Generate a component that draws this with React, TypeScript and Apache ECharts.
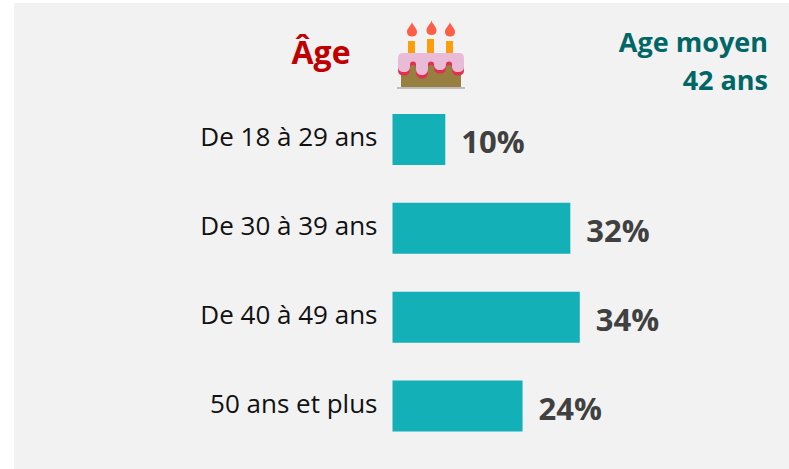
import React, { useEffect, useRef } from "react";
import * as echarts from "echarts";

const categories = ["De 18 à 29 ans", "De 30 à 39 ans", "De 40 à 49 ans", "50 ans et plus"];
const values = [9.5, 32, 33.7, 23.4];
const valueLabels = ["10%", "32%", "34%", "24%"];
const FONT = "'Open Sans', sans-serif";

echarts.graphic.registerShape("flame", echarts.graphic.extendPath("M5 0 C6 4 10 6 10 10 C10 13 8 14.5 5 14.5 C2 14.5 0 13 0 10 C0 6 4 4 5 0 Z", {}));
echarts.graphic.registerShape("icing", echarts.graphic.extendPath("M5 0 H61 Q66 0 66 5 V14 C66 18 63 19 60 19 C56 19 54 17 54 13 V11.5 A3 3 0 0 0 48 11.5 V11 C48 15 46 17 42 17 C38 17 36 15 36 11 V11.5 A3 3 0 0 0 30 11.5 V16 C30 20 27 22 24 22 C21 22 18 20 18 16 V11.5 A3 3 0 0 0 12 11.5 V13 C12 17 10 19 6 19 C2 19 0 17 0 14 V5 Q0 0 5 0 Z", {}));

export default function App() {
  const ref = useRef<HTMLDivElement>(null);
  useEffect(() => {
    const chart = echarts.init(ref.current!, null, { renderer: "svg" });
    const flames = [[407, 22], [426.5, 20.5], [445, 22]];
    const candles = [[408, 41, 13], [427, 39, 15], [446, 41, 13]];
    chart.setOption({
      animation: false,
      backgroundColor: "#ffffff",
      grid: { left: 392.5, top: 95, width: 389, height: 355.5 },
      xAxis: { type: "value", min: 0, max: 70, show: false },
      yAxis: {
        type: "category",
        inverse: true,
        data: categories,
        axisLine: { show: false },
        axisTick: { show: false },
        axisLabel: { color: "#111111", fontFamily: FONT, fontSize: 26, margin: 15, verticalAlign: "bottom", lineHeight: 7 },
      },
      series: [
        {
          type: "bar",
          data: values,
          barWidth: 51,
          itemStyle: { color: "#13B0B8" },
          label: {
            show: true,
            position: "right",
            distance: 16,
            offset: [0, 1.5],
            color: "#404040",
            fontFamily: FONT,
            fontWeight: "bold",
            fontSize: 31,
            formatter: (p: any) => valueLabels[p.dataIndex],
          },
        },
      ],
      graphic: {
        elements: [
          { type: "rect", z: -10, shape: { x: 14, y: 3, width: 775, height: 466 }, style: { fill: "#F2F2F2" } },
          { type: "text", x: 321, y: 51, style: { text: "Âge", fill: "#C00000", font: `bold 32px ${FONT}`, align: "center", verticalAlign: "middle" } },
          { type: "text", x: 768, y: 41, style: { text: "Age moyen", fill: "#006666", font: `bold 27px ${FONT}`, align: "right", verticalAlign: "middle" } },
          { type: "text", x: 768, y: 79, style: { text: "42 ans", fill: "#006666", font: `bold 27px ${FONT}`, align: "right", verticalAlign: "middle" } },
          ...flames.map(([x, y]) => ({ type: "flame", x, y, style: { fill: "#FC5F45" } })),
          ...candles.map(([x, y, h]) => ({ type: "rect", shape: { x, y, width: 7, height: h }, style: { fill: "#FF9C0B" } })),
          { type: "rect", shape: { x: 401, y: 60, width: 60, height: 27 }, style: { fill: "#97803F" } },
          { type: "icing", x: 398, y: 56.5, style: { fill: "#E1304F" } },
          { type: "icing", x: 398, y: 53, style: { fill: "#E9BBD6" } },
          { type: "rect", shape: { x: 397, y: 87, width: 68, height: 2 }, style: { fill: "#BDBDBD" } },
        ],
      },
    });
    return () => chart.dispose();
  }, []);
  return <div ref={ref} style={{ position: "fixed", left: 0, top: 0, width: 789, height: 469 }} />;
}
